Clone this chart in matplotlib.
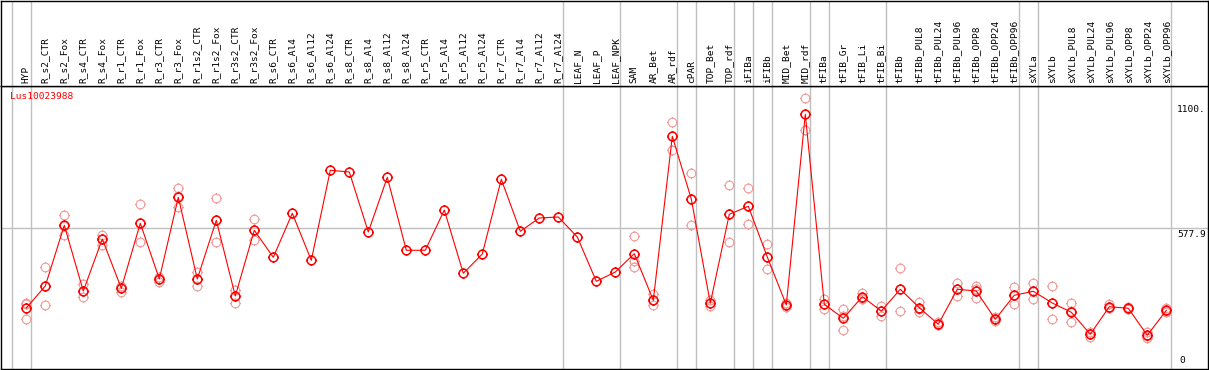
import numpy as np
import matplotlib
matplotlib.use("Agg")
import matplotlib.pyplot as plt
from matplotlib.path import Path
import matplotlib.transforms as mtransforms


""" Expression profile of one gene across tissues / treatments
    (mean line plus the individual replicates)
"""

gene = "Lus10023988"

samples = ["HYP", "R_s2_CTR", "R_s2_Fox", "R_s4_CTR", "R_s4_Fox", "R_r1_CTR",
           "R_r1_Fox", "R_r3_CTR", "R_r3_Fox", "R_r1s2_CTR", "R_r1s2_Fox",
           "R_r3s2_CTR", "R_r3s2_Fox", "R_s6_CTR", "R_s6_Al4", "R_s6_Al12",
           "R_s6_Al24", "R_s8_CTR", "R_s8_Al4", "R_s8_Al12", "R_s8_Al24",
           "R_r5_CTR", "R_r5_Al4", "R_r5_Al12", "R_r5_Al24", "R_r7_CTR",
           "R_r7_Al4", "R_r7_Al12", "R_r7_Al24", "LEAF_N", "LEAF_P", "LEAF_NPK",
           "SAM", "AR_Bet", "AR_rdf", "cPAR", "TOP_Bet", "TOP_rdf", "iFIBa",
           "iFIBb", "MID_Bet", "MID_rdf", "tFIBa", "tFIB_Gr", "tFIB_Li",
           "tFIB_Bi", "tFIBb", "tFIBb_PUL8", "tFIBb_PUL24", "tFIBb_PUL96",
           "tFIBb_OPP8", "tFIBb_OPP24", "tFIBb_OPP96", "sXYLa", "sXYLb",
           "sXYLb_PUL8", "sXYLb_PUL24", "sXYLb_PUL96", "sXYLb_OPP8",
           "sXYLb_OPP24", "sXYLb_OPP96"]

mean_expr = [244.6, 336.7, 590.5, 315.7, 533.2, 327.0, 598.9, 365.9, 707.6,
             365.9, 611.4, 294.8, 569.6, 456.7, 640.7, 444.1, 820.5, 813.4,
             562.5, 791.2, 486.0, 486.0, 654.5, 389.8, 470.5, 782.9, 565.4,
             621.0, 625.2, 541.6, 356.3, 395.2, 471.7, 276.8, 962.7, 700.5,
             264.3, 636.5, 670.0, 457.9, 257.2, 1054.7, 260.1, 201.6, 291.9,
             232.1, 322.9, 245.9, 176.5, 322.9, 315.7, 197.4, 297.8, 314.5,
             265.6, 226.7, 134.7, 250.1, 243.4, 130.5, 235.0]

nan = np.nan
# replicates (nan where the sample has no replicates shown)
rep_a = [266.9, 414.9, 632.3, 343.8, 551.2, 337.9, 678.3, 375.5, 745.2, 395.2,
         703.4, 319.9, 615.6] + [nan] * 19 + \
        [545.8, 303.2, 1021.2, 808.0, 278.1, 757.8, 745.2, 512.3, 264.3,
         1121.6, 283.5, 239.2, 308.6, 254.3, 410.7, 269.7, 184.8, 347.9,
         336.7, 205.0, 332.5, 347.9, 335.4, 264.3, 143.0, 261.4, 248.8,
         144.3, 243.4]
rep_b = [261.4, 255.9, 551.2, 289.4, 506.9, 310.3, 519.4, 354.6, 665.8, 335.4,
         519.4, 264.3, 529.0] + [nan] * 19 + \
        [439.9, 255.9, 904.1, 590.5, 253.0, 519.4, 594.7, 407.7, 247.6,
         989.0, 240.5, 152.6, 286.5, 212.4, 232.1, 229.2, 172.3, 296.1,
         285.2, 190.0, 260.1, 281.0, 197.4, 184.8, 124.6, 243.4, 239.2,
         117.9, 229.2]
rep_c = [197.4, 336.7, 587.6, 315.7, 533.2, 327.0, 600.0, 365.9, 711.0, 366.0,
         612.0, 295.0, 570.0] + [nan] * 19 + \
        [417.4, 278.0, 962.0, 700.0, 265.0, 637.0, 670.0, 458.0, 257.0,
         1055.0, 261.0, 213.0, 281.0, 230.0, 326.0, 239.0, 172.0, 325.0,
         325.0, 198.0, 301.0, 315.0, 264.0, 231.0, 136.0, 246.0, 242.0,
         129.0, 232.0]

# last sample of each group (grey separators are drawn after these)
group_ends = [-1, 0, 28, 31, 34, 35, 37, 38, 39, 41, 42, 45, 52, 53, 60]

y_marks = [1100.0, 577.9, 0.0]
y_mark_labels = ["1100.", "577.9", "0"]


def gear_marker():
    """ open circle with four small ticks pointing outwards """
    t = np.linspace(0, 2 * np.pi, 41)
    r = 0.8
    verts = [(r * np.cos(a), r * np.sin(a)) for a in t]
    codes = [Path.MOVETO] + [Path.LINETO] * (len(t) - 1)
    for dx, dy in [(1, 0), (-1, 0), (0, 1), (0, -1)]:
        verts += [(0.8 * dx, 0.8 * dy), (1.0 * dx, 1.0 * dy)]
        codes += [Path.MOVETO, Path.LINETO]
    return Path(verts, codes)


def main():
    W, H = 1209, 370
    fig = plt.figure(figsize=(W / 100, H / 100), dpi=100)

    font = dict(family="DejaVu Sans Mono", size=6.8)
    grey = "#c0c0c0"
    red = "#ff0000"
    pink = "#f09a9a"

    # pixel layout of the box: x 1..1208, header 0..86, plot 86..369
    ax = fig.add_axes([1 / W, 1 / H, 1207 / W, 283 / H])
    hdr = fig.add_axes([1 / W, 284 / H, 1207 / W, 85 / H], sharex=ax)

    x = np.arange(len(samples))
    x_lo = (1 - 26.3) / 19
    x_hi = (1208 - 26.3) / 19
    ax.set_xlim(x_lo, x_hi)
    ax.set_ylim(-10.5, 1173)
    hdr.set_ylim(0, 1)

    for a in (ax, hdr):
        a.set_xticks([])
        a.set_yticks([])
        for s in a.spines.values():
            s.set_linewidth(1.0)
            s.set_color("black")
        for g in group_ends:
            a.axvline(g + 0.24, color=grey, lw=1.0, zorder=0)

    ax.axhline(y_marks[1], color=grey, lw=1.0, zorder=0)

    # sample names, rotated
    for xi, name in zip(x, samples):
        hdr.text(xi, 0.03, name, rotation=90, ha="center", va="bottom",
                 **font)

    mk = gear_marker()
    for reps in (rep_a, rep_b, rep_c):
        ax.plot(x, reps, linestyle="none", marker=mk, markersize=7.8,
                markerfacecolor="none", markeredgecolor=pink, mew=0.8,
                zorder=2)

    ax.plot(x, mean_expr, "-", color=red, lw=0.8, zorder=3)
    ax.plot(x, mean_expr, linestyle="none", marker=mk, markersize=7.8,
            markerfacecolor="none", markeredgecolor=red, mew=1.1, zorder=4)

    ax.text(0.0075, 0.962, gene, color=red, transform=ax.transAxes,
            ha="left", va="center", **font)

    # value labels on the right edge
    trans = mtransforms.blended_transform_factory(ax.transAxes, ax.transData)
    xl = (1177 - 1) / 1207
    for v, lab in zip(y_marks, y_mark_labels):
        if v == 0:
            ax.annotate(lab, (xl, v), xycoords=trans, xytext=(1.5, 1),
                        textcoords="offset points", ha="left", va="bottom",
                        **font)
        else:
            ax.annotate(lab, (xl, v), xycoords=trans, xytext=(0, -1.2),
                        textcoords="offset points", ha="left", va="top",
                        **font)

    fig.savefig("out.png", dpi=100)


if __name__ == "__main__":
    main()
